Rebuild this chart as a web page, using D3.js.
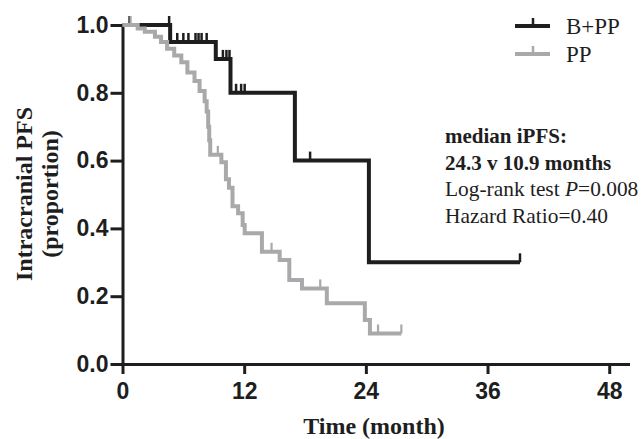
<!DOCTYPE html>
<html>
<head>
<meta charset="utf-8">
<script src="https://cdn.jsdelivr.net/npm/d3@7"></script>
<style>
  html, body { margin: 0; padding: 0; background: #fff; }
  svg { display: block; }
</style>
</head>
<body>
<svg id="chart" width="642" height="439"></svg>
<script>
// ---- data ----
const seriesNames = ["B+PP", "PP"];
// step-function points: from time t onward, proportion = s
const bppTimes = [0, 4.7, 9.2, 10.65, 17.0, 24.3, 39.2];
const bppSurv  = [1.0, 0.95, 0.90, 0.80, 0.60, 0.30, 0.30];
const bppCensor = [0.7, 4.6, 5.4, 6.0, 6.5, 7.2, 7.5, 7.8, 8.3, 9.9, 10.25, 10.55, 11.2, 11.7, 12.05, 18.5, 39.2];

const ppTimes = [0, 1.5, 2.2, 3.2, 3.8, 4.4, 5.1, 5.8, 6.4, 7.1, 7.6, 8.1, 8.3, 8.45, 8.55, 8.65,
                 9.75, 10.2, 10.5, 10.85, 11.4, 11.85, 12.05, 13.75, 15.5, 16.45, 17.7, 20.15, 23.9, 24.4, 27.5];
const ppSurv  = [1.0, 0.99, 0.98, 0.965, 0.95, 0.93, 0.91, 0.89, 0.86, 0.835, 0.805, 0.775, 0.745, 0.70, 0.66, 0.617,
                 0.595, 0.545, 0.52, 0.465, 0.445, 0.41, 0.386, 0.331, 0.307, 0.248, 0.223, 0.179, 0.13, 0.09, 0.09];
const ppCensor = [0.8, 9.4, 14.7, 19.5, 25.2, 27.5];

const xTicks = [0, 12, 24, 36, 48];
const yTicks = [0, 0.2, 0.4, 0.6, 0.8, 1.0];
const annotation = [
  {text: "median iPFS:", bold: true},
  {text: "24.3 v 10.9 months", bold: true},
  {text: "Log-rank test ", bold: false, italic: "P", rest: "=0.008"},
  {text: "Hazard Ratio=0.40", bold: false}
];

// ---- chart ----
const svg = d3.select("#chart");
const x = d3.scaleLinear().domain([0, 50]).range([122.5, 629.5]);
const y = d3.scaleLinear().domain([0, 1]).range([364, 25]);
const axisColor = "#1e1e1e";
const colors = ["#1e1e1e", "#a9a9ab"];

function survAt(times, surv, t) {
  const i = d3.bisectRight(times, t) - 1;
  return surv[Math.max(0, i)];
}

// axes
const yAxis = d3.axisLeft(y).tickValues(yTicks).tickFormat(d3.format(".1f"))
  .tickSize(12).tickSizeOuter(0).tickPadding(2);
const xAxis = d3.axisBottom(x).tickValues(xTicks).tickFormat(d3.format("d"))
  .tickSize(10).tickSizeOuter(0).tickPadding(9);

const gy = svg.append("g").attr("transform", `translate(${x(0)},0)`).call(yAxis);
const gx = svg.append("g").attr("transform", `translate(0,${y(0)})`).call(xAxis);
[gx, gy].forEach(g => {
  g.select(".domain").attr("stroke", axisColor).attr("stroke-width", 3);
  g.selectAll(".tick line").attr("stroke", axisColor).attr("stroke-width", 3);
  g.selectAll(".tick text")
    .attr("fill", axisColor)
    .style("font-family", "'Liberation Sans', Arial, sans-serif")
    .style("font-weight", "bold")
    .style("font-size", "23px");
});

// curves
const line = d3.line().curve(d3.curveStepAfter).x(d => x(d[0])).y(d => y(d[1]));
const series = [
  {times: bppTimes, surv: bppSurv, censor: bppCensor, color: colors[0], cw: 2.5},
  {times: ppTimes, surv: ppSurv, censor: ppCensor, color: colors[1], cw: 2.2}
];
series.forEach(s => {
  const pts = s.times.map((t, i) => [t, s.surv[i]]);
  svg.append("path").datum(pts)
    .attr("d", line)
    .attr("fill", "none")
    .attr("stroke", s.color)
    .attr("stroke-width", 4)
    .attr("stroke-linejoin", "miter")
    .attr("stroke-linecap", "butt");
  svg.append("g").selectAll("line").data(s.censor).join("line")
    .attr("x1", d => x(d)).attr("x2", d => x(d))
    .attr("y1", d => y(survAt(s.times, s.surv, d)))
    .attr("y2", d => y(survAt(s.times, s.surv, d)) - 9)
    .attr("stroke", s.color)
    .attr("stroke-width", s.cw);
});

// legend
const serif = "'Liberation Serif', 'Times New Roman', serif";
const legend = svg.append("g");
seriesNames.forEach((name, i) => {
  const ly = 26 + i * 28;
  legend.append("line").attr("x1", 515).attr("x2", 550).attr("y1", ly).attr("y2", ly)
    .attr("stroke", colors[i]).attr("stroke-width", 4);
  legend.append("line").attr("x1", 533).attr("x2", 533).attr("y1", ly).attr("y2", ly - 8)
    .attr("stroke", colors[i]).attr("stroke-width", 2.5);
  legend.append("text").attr("x", 566).attr("y", ly + 7.5)
    .style("font-family", serif).style("font-size", "23px")
    .attr("fill", "#1e1e1e")
    .text(name);
});

// annotation
annotation.forEach((a, i) => {
  const t = svg.append("text").attr("x", 445).attr("y", 143 + i * 26.5)
    .style("font-family", serif)
    .style("font-size", a.bold ? "21px" : "21.4px")
    .style("font-weight", a.bold ? "bold" : "normal")
    .attr("fill", "#1e1e1e");
  t.append("tspan").text(a.text);
  if (a.italic) {
    t.append("tspan").style("font-style", "italic").text(a.italic);
    t.append("tspan").text(a.rest);
  }
});

// axis titles
svg.append("text")
  .attr("x", x(24.8)).attr("y", 434)
  .attr("text-anchor", "middle")
  .style("font-family", serif).style("font-weight", "bold").style("font-size", "24px")
  .attr("fill", "#1e1e1e")
  .text("Time (month)");

const yTitle = ["Intracranial PFS", "(proportion)"];
yTitle.forEach((t, i) => {
  svg.append("text")
    .attr("transform", `translate(${32 + i * 25.5},194) rotate(-90)`)
    .attr("text-anchor", "middle")
    .style("font-family", serif).style("font-weight", "bold").style("font-size", "24px")
    .attr("fill", "#1e1e1e")
    .text(t);
});
</script>
</body>
</html>
